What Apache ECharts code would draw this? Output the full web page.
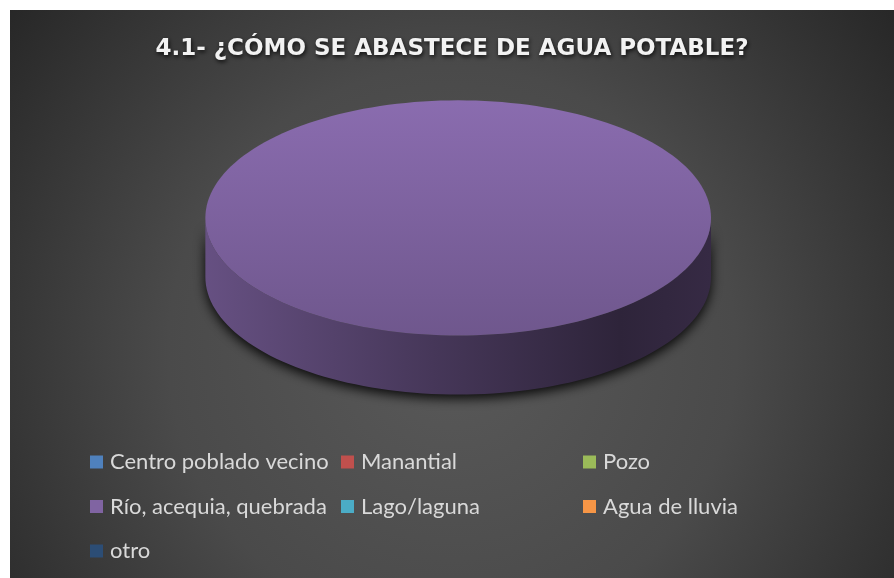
<!doctype html>
<html lang="es">
<head>
<meta charset="UTF-8">
<title>4.1- ¿Cómo se abastece de agua potable?</title>
<script src="https://cdn.jsdelivr.net/npm/echarts@6/dist/echarts.min.js"></script>
<style>
    html, body { margin: 0; padding: 0; background: #fff; }
    #main { position: absolute; left: 10px; top: 10px; width: 884px; height: 568px; }
</style>
</head>
<body>
<div id="main"></div>
<script>
var titulo = '4.1- ¿CÓMO SE ABASTECE DE AGUA POTABLE?';
var categorias = ['Centro poblado vecino', 'Manantial', 'Pozo', 'Río, acequia, quebrada', 'Lago/laguna', 'Agua de lluvia', 'otro'];
var valores = [0, 0, 0, 100, 0, 0, 0];
var colores = ['#4F81BD', '#C0504D', '#9BBB59', '#8064A2', '#4BACC6', '#F79646', '#2C4D75'];

// columnas de la leyenda (como en el original)
var leyendaCol1 = ['Centro poblado vecino', 'Río, acequia, quebrada', 'otro'];
var leyendaCol2 = ['Manantial', 'Lago/laguna'];
var leyendaCol3 = ['Pozo', 'Agua de lluvia'];

var myChart = echarts.init(document.getElementById('main'));

function sombra(hex, f) {
    var r = parseInt(hex.slice(1, 3), 16), g = parseInt(hex.slice(3, 5), 16), b = parseInt(hex.slice(5, 7), 16);
    var c = [r, g, b].map(function (x) { return Math.max(0, Math.min(255, Math.round(x * f))); });
    return 'rgb(' + c.join(',') + ')';
}

var total = valores.reduce(function (a, b) { return a + b; }, 0);

// pastel 3D: cara superior elíptica + pared frontal
function renderItem(params, api) {
    var i = params.seriesIndex;
    var v = valores[i];
    if (!v) return;
    var W = api.getWidth(), H = api.getHeight();
    var cx = W * 0.507, cy = H * 0.366, rx = W * 0.286, ry = H * 0.207, prof = H * 0.104;
    var antes = 0;
    for (var k = 0; k < i; k++) antes += valores[k];
    var a0 = antes / total * Math.PI * 2, a1 = (antes + v) / total * Math.PI * 2;
    function pt(t, dy) { return [cx + rx * Math.sin(t), cy - ry * Math.cos(t) + (dy || 0)]; }
    var n = Math.max(2, Math.ceil((a1 - a0) / (Math.PI * 2) * 180));
    var arco = [];
    for (var j = 0; j <= n; j++) arco.push(pt(a0 + (a1 - a0) * j / n));
    var completo = (a1 - a0) >= Math.PI * 2 - 1e-6;
    var sup = completo ? arco : [[cx, cy]].concat(arco);

    var hijos = [];
    var s = Math.max(a0, Math.PI / 2), e = Math.min(a1, Math.PI * 1.5);
    if (e > s) {
        var m = Math.max(2, Math.ceil((e - s) / Math.PI * 90));
        var arr = [], abj = [];
        for (var j = 0; j <= m; j++) {
            var t = s + (e - s) * j / m;
            arr.push(pt(t));
            abj.unshift(pt(t, prof));
        }
        hijos.push({
            type: 'polygon', z2: 1,
            shape: { points: arr.concat(abj) },
            style: {
                fill: {
                    type: 'linear', global: true, x: cx - rx, y: 0, x2: cx + rx, y2: 0,
                    colorStops: [
                        { offset: 0, color: sombra(colores[i], 0.80) },
                        { offset: 0.45, color: sombra(colores[i], 0.55) },
                        { offset: 0.82, color: sombra(colores[i], 0.36) },
                        { offset: 1, color: sombra(colores[i], 0.42) }
                    ]
                },
                shadowBlur: 12, shadowColor: 'rgba(0,0,0,0.9)', shadowOffsetY: 4
            }
        });
    }
    hijos.push({
        type: 'polygon', z2: 10,
        shape: { points: sup },
        style: {
            fill: {
                type: 'linear', global: true, x: 0, y: cy - ry, x2: 0, y2: cy + ry,
                colorStops: [
                    { offset: 0, color: sombra(colores[i], 1.08) },
                    { offset: 1, color: sombra(colores[i], 0.87) }
                ]
            }
        }
    });
    return { type: 'group', children: hijos };
}

var series = categorias.map(function (nombre, i) {
    return {
        name: nombre,
        type: 'custom',
        coordinateSystem: 'none',
        renderItem: renderItem,
        itemStyle: { color: colores[i] },
        data: [valores[i]],
        silent: true
    };
});

var estiloLeyenda = {
    orient: 'vertical',
    top: 441,
    padding: 0,
    itemGap: 22.5,
    itemWidth: 13,
    itemHeight: 13,
    icon: 'rect',
    selectedMode: false,
    textStyle: { color: '#d9d9d9', fontSize: 22, lineHeight: 22, fontFamily: 'Lato', padding: [0, 0, 0, 2] }
};

var option = {
    backgroundColor: {
        type: 'radial', x: 0.5, y: 0.6, r: 1.0,
        colorStops: [
            { offset: 0, color: '#595959' },
            { offset: 0.5, color: '#4a4a4a' },
            { offset: 1, color: '#262626' }
        ]
    },
    title: {
        text: titulo,
        left: 'center',
        top: 23,
        textStyle: {
            color: '#f2f2f2',
            fontFamily: 'DejaVu Sans',
            fontWeight: 'bold',
            fontSize: 23,
            textShadowColor: 'rgba(0,0,0,0.8)',
            textShadowBlur: 4,
            textShadowOffsetX: 1,
            textShadowOffsetY: 2
        }
    },
    legend: [
        Object.assign({}, estiloLeyenda, { left: 80, data: leyendaCol1 }),
        Object.assign({}, estiloLeyenda, { left: 331, data: leyendaCol2 }),
        Object.assign({}, estiloLeyenda, { left: 573, data: leyendaCol3 })
    ],
    series: series
};
myChart.setOption(option);
</script>
</body>
</html>
